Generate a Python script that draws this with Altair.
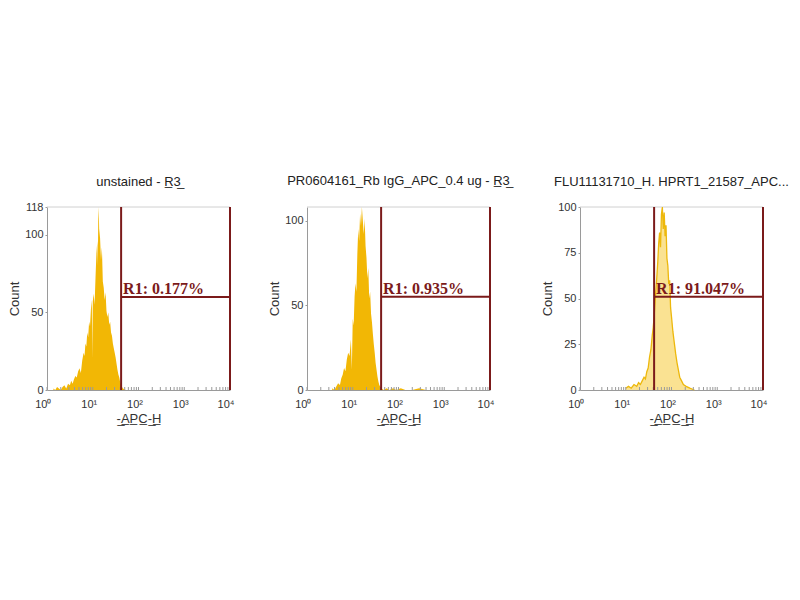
import altair as alt
import pandas as pd

# ---------------- data ----------------
panel_titles = [
    "unstained - R\u03323\u0332",
    "PR0604161_Rb IgG_APC_0.4 ug - R\u03323\u0332",
    "FLU11131710_H. HPRT1_21587_APC...",
]
y_max = [118, 108, 100]
y_ticks = [[0, 50, 100, 118], [0, 50, 100], [0, 25, 50, 75, 100]]
gate_lo_decade = [1.62, 1.62, 1.62]
gate_hi_decade = [4.0, 4.0, 4.0]
gate_level = [60, 55, 51]
gate_labels = ["R1: 0.177%", "R1: 0.935%", "R1: 91.047%"]

# histogram channels in decades (log10 of APC-H) and counts
hist1_decade = [0.14, 0.18, 0.22, 0.26, 0.30, 0.34, 0.38, 0.42, 0.46, 0.50,
                0.53, 0.56, 0.59, 0.62, 0.65, 0.68, 0.71, 0.74, 0.77, 0.80,
                0.82, 0.84, 0.86, 0.88, 0.90, 0.92, 0.94, 0.96, 0.98, 0.99,
                1.00, 1.02, 1.04, 1.06, 1.08, 1.10, 1.11, 1.12, 1.13, 1.14,
                1.16, 1.18, 1.20, 1.22, 1.24, 1.26, 1.28, 1.30, 1.32, 1.34,
                1.36, 1.38, 1.40, 1.42, 1.44, 1.46, 1.48, 1.50, 1.52, 1.54,
                1.56, 1.58, 1.60, 1.62, 1.66, 1.72]
hist1_count = [1, 0, 2, 1, 0, 2, 3, 1, 4, 3,
               6, 4, 7, 9, 8, 12, 14, 11, 19, 24,
               22, 30, 28, 37, 34, 44, 41, 52, 58, 20,
               57, 62, 55, 72, 88, 96, 80, 110, 118, 104,
               98, 84, 92, 70, 66, 58, 63, 51, 47, 50,
               42, 44, 37, 35, 30, 27, 24, 21, 17, 13,
               10, 8, 5, 3, 1, 0]

hist2_decade = [0.55, 0.60, 0.64, 0.68, 0.72, 0.75, 0.78, 0.81, 0.84, 0.87,
                0.90, 0.93, 0.96, 0.98, 1.00, 1.02, 1.04, 1.06, 1.08, 1.10,
                1.12, 1.14, 1.16, 1.18, 1.20, 1.22, 1.24, 1.26, 1.28, 1.30,
                1.32, 1.34, 1.36, 1.38, 1.40, 1.42, 1.44, 1.46, 1.48, 1.50,
                1.52, 1.54, 1.56, 1.58, 1.60, 1.62, 1.68, 1.74, 1.80, 1.88,
                1.95, 2.05, 2.15, 2.30, 2.45, 2.60, 2.80]
hist2_count = [1, 0, 2, 4, 3, 7, 9, 13, 11, 18,
               22, 20, 30, 12, 42, 38, 55, 63, 58, 80,
               95, 88, 104, 97, 108, 100, 92, 101, 85, 78,
               66, 72, 54, 58, 45, 40, 33, 27, 22, 16,
               12, 8, 5, 3, 2, 1, 0, 1, 0, 1,
               0, 1, 0, 0, 1, 0, 0]

hist3_decade = [1.00, 1.06, 1.12, 1.18, 1.24, 1.28, 1.32, 1.36, 1.40,
                1.43, 1.46, 1.49, 1.52, 1.55, 1.58, 1.60, 1.62, 1.64, 1.66,
                1.68, 1.70, 1.72, 1.74, 1.76, 1.78, 1.80, 1.82, 1.84, 1.86,
                1.88, 1.90, 1.92, 1.94, 1.96, 1.98, 2.00, 2.03, 2.06,
                2.09, 2.12, 2.15, 2.18, 2.22, 2.26, 2.32, 2.40, 2.50]
hist3_count = [1, 2, 1, 3, 2, 4, 3, 5, 7,
               6, 10, 12, 18, 22, 30, 34, 40, 48, 55,
               62, 70, 80, 86, 78, 96, 100, 88, 97, 84,
               90, 72, 68, 58, 60, 45, 40, 32, 26,
               20, 15, 11, 7, 5, 3, 2, 1, 0]

x_major = [1, 10, 100, 1000, 10000]
x_minor = [k * 10 ** e for e in range(4) for k in range(1, 10)] + [10000]
x_labels = ["10\u2070", "10\u00b9", "10\u00b2", "10\u00b3", "10\u2074"]

hists = [(hist1_decade, hist1_count), (hist2_decade, hist2_count), (hist3_decade, hist3_count)]

# ---------------- styles ----------------
GATE = "#7B1A1A"
FILL = "#F2B705"
AXIS = "#9a9a9a"
FRAME = "#d0d0d0"
SANS = "Liberation Sans"

label_expr = " : ".join(
    f"datum.value == {v} ? '{l}'" for v, l in zip(x_major, x_labels)
) + " : ''"

W, H = 183, 183
# extra left room (px) inside each panel so the gaps between plots match
LEFT_EXTRA = [0, 0, 13]
TITLE_OFFSET = [12, 18, 12]


def panel(i):
    d, c = hists[i]
    ex = LEFT_EXTRA[i]
    width = W + ex
    hist = pd.DataFrame({"apc": [10 ** v for v in d], "count": c})
    xs = alt.Scale(type="log", domain=[1, 10000], nice=False, range=[ex, width])
    ys = alt.Scale(domain=[0, y_max[i]], nice=False, zero=True)

    x_enc = alt.X(
        "apc:Q", scale=xs,
        axis=alt.Axis(values=x_major, labelExpr=label_expr, ticks=False,
                      grid=False, title="-\u0332A\u0332P\u0332C\u0332-\u0332H\u0332",
                      labelAlign="right", labelOffset=4, labelPadding=8,
                      titlePadding=3),
    )
    y_enc = alt.Y(
        "count:Q", scale=ys,
        axis=alt.Axis(values=y_ticks[i], grid=False, title="Count",
                      tickSize=2, labelPadding=2, titlePadding=3, offset=-ex),
    )

    if i < 2:
        hist_layer = alt.Chart(hist).mark_area(color=FILL, opacity=1).encode(x=x_enc, y=y_enc)
    else:
        area = alt.Chart(hist).mark_area(color="#F6CF4A", opacity=0.6).encode(x=x_enc, y=y_enc)
        line = alt.Chart(hist).mark_line(color="#EDB80C", strokeWidth=1.3).encode(x="apc:Q", y="count:Q")
        hist_layer = area + line

    ticks = alt.Chart(pd.DataFrame({"t": x_minor})).mark_rule(color=AXIS, strokeWidth=1).encode(
        x=alt.X("t:Q", scale=xs), y=alt.value(H), y2=alt.value(H - 3)
    )

    frame = alt.Chart(pd.DataFrame({"x": [1], "x2": [10000], "y": [y_max[i]]})).mark_rule(
        color=FRAME, strokeWidth=1
    ).encode(x=alt.X("x:Q", scale=xs), x2="x2:Q", y=alt.Y("y:Q", scale=ys))

    lo = 10 ** gate_lo_decade[i]
    hi = 10 ** gate_hi_decade[i]
    gates = pd.DataFrame({
        "x": [lo, hi, lo],
        "x2": [lo, hi, hi],
        "y": [0, 0, gate_level[i]],
        "y2": [y_max[i], y_max[i], gate_level[i]],
    })
    gate_layer = alt.Chart(gates).mark_rule(color=GATE, strokeWidth=2).encode(
        x=alt.X("x:Q", scale=xs), x2="x2:Q", y=alt.Y("y:Q", scale=ys), y2="y2:Q"
    )

    lab = pd.DataFrame({"x": [lo], "y": [gate_level[i]], "t": [gate_labels[i]]})
    text_layer = alt.Chart(lab).mark_text(
        align="left", baseline="bottom", dx=2, dy=0, font="Liberation Serif",
        fontWeight="bold", fontSize=16, color=GATE,
    ).encode(x=alt.X("x:Q", scale=xs), y=alt.Y("y:Q", scale=ys), text="t:N")

    return alt.layer(frame, hist_layer, ticks, gate_layer, text_layer).properties(
        width=width, height=H,
        title=alt.TitleParams(panel_titles[i], fontSize=13, font=SANS, fontWeight="normal",
                              color="#222", offset=TITLE_OFFSET[i], anchor="middle",
                              dx=ex / 2, frame="group"),
    )


chart = alt.hconcat(panel(0), panel(1), panel(2), spacing=77, bounds="flush").properties(
    padding={"left": 0, "top": 166, "right": 0, "bottom": 5}
).configure_view(stroke="transparent").configure_axis(
    domainColor=AXIS, tickColor=AXIS, labelColor="#333", titleColor="#333",
    labelFont=SANS, titleFont=SANS, labelFontSize=11, titleFontSize=13,
    titleFontWeight="normal",
)

chart.save("out.html", embed_options={"renderer": "svg", "actions": False})
